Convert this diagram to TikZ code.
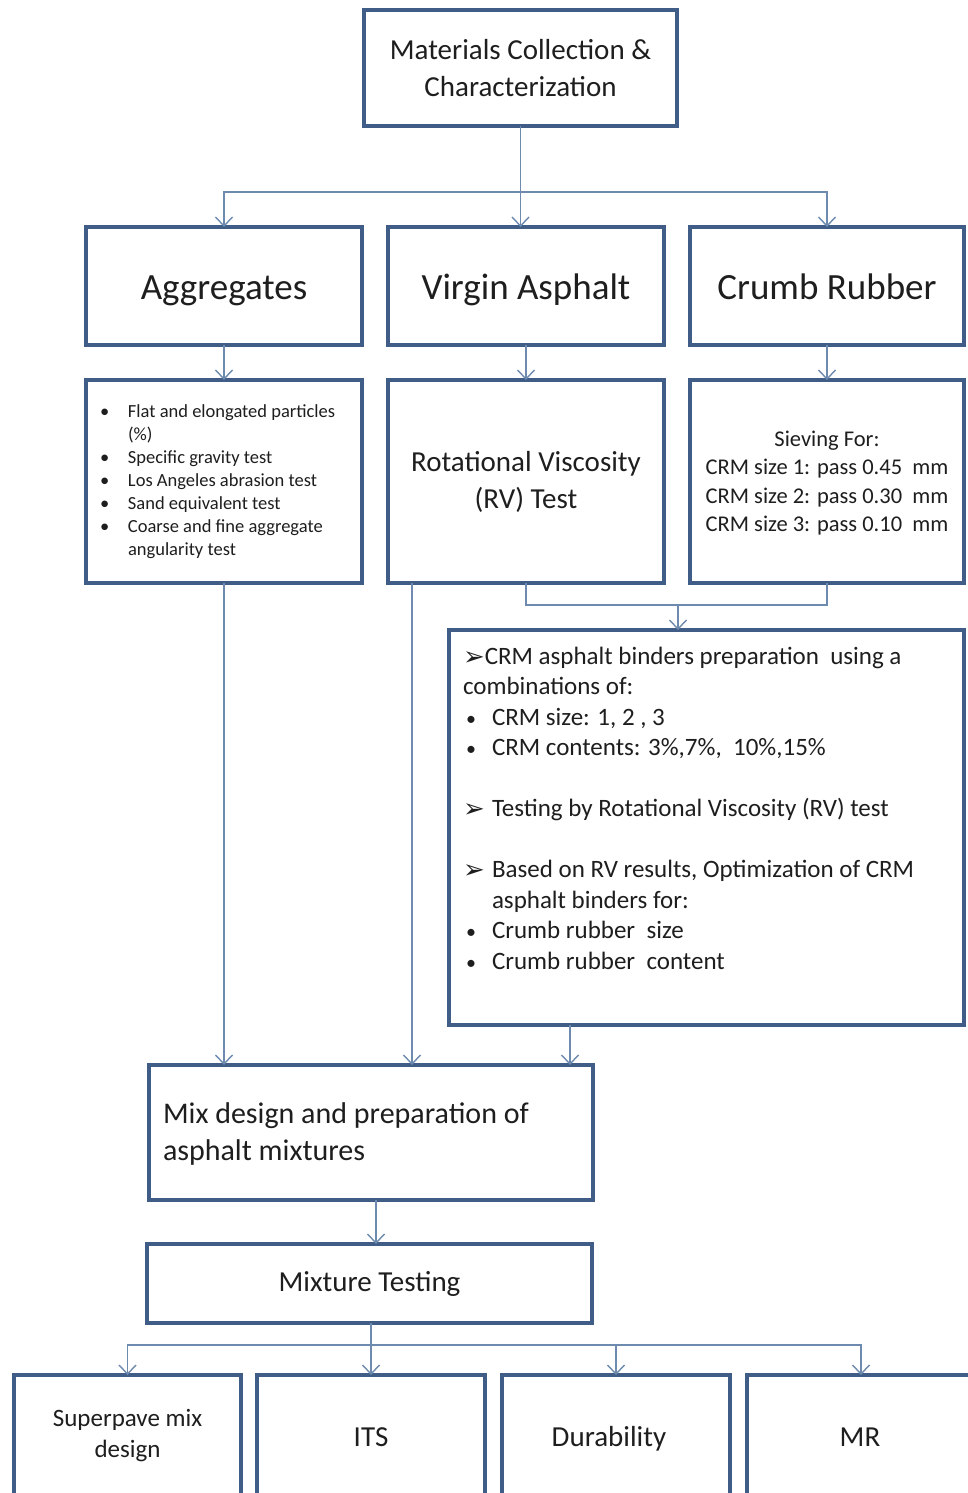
\documentclass[tikz,border=0pt]{standalone}
\usepackage{fontspec}
\setmainfont{Carlito}
\newfontfamily\symfont{DejaVu Sans}
\usetikzlibrary{arrows.meta,calc}
\definecolor{bordercol}{HTML}{3F5D86}
\definecolor{linecol}{HTML}{6E8BAF}
\definecolor{txt}{HTML}{1E1E1E}
\newcommand{\fs}[2]{\fontsize{#1}{#2}\selectfont}
\newcommand{\arrowsym}{{\symfont\fs{26}{30.5}\raisebox{-1pt}{➢}}}
\newcommand{\sbul}{{\fs{20}{30.5}\textbullet}}
\begin{document}
\begin{tikzpicture}[x=1pt,y=-1pt,
  box/.style={draw=bordercol, line width=4pt, fill=white, inner sep=0pt, outer sep=0pt, text=txt, align=center},
  bigbox/.style={box, minimum height=118pt, font=\fs{37}{44}, text height=29pt, text depth=3pt},
  txtnode/.style={inner sep=0pt, outer sep=0pt, text=txt, align=left},
  conn/.style={draw=linecol, line width=1.4pt},
  arr/.style={conn, -{Straight Barb[length=9pt,width=17pt]}},
]
\useasboundingbox[fill=white] (0,0) rectangle (968,1493);
\clip (0,0) rectangle (968,1493);

% top
\node[box, minimum width=313pt, minimum height=116pt, font=\fs{29}{37}] (top) at (520.5,68) {Materials Collection \&\\Characterization};

% row 2
\node[bigbox, minimum width=276pt] (agg) at (224,286) {Aggregates};
\node[bigbox, minimum width=276pt] (va) at (526,286) {Virgin Asphalt};
\node[bigbox, minimum width=274pt] (cr) at (827,286) {Crumb Rubber};

% row 3
\node[box, minimum width=276pt, minimum height=203pt] (aggt) at (224,481.5) {};
\node[txtnode, anchor=west, font=\fs{18.5}{23}] (aggtxt) at (100,482)
  {\makebox[28pt][l]{\textbullet}Flat and elongated particles\\
   \hspace*{28pt}(\%)\\
   \makebox[28pt][l]{\textbullet}Specific gravity test\\
   \makebox[28pt][l]{\textbullet}Los Angeles abrasion test\\
   \makebox[28pt][l]{\textbullet}Sand equivalent test\\
   \makebox[28pt][l]{\textbullet}Coarse and fine aggregate\\
   \hspace*{28pt}angularity test};
\node[box, minimum width=276pt, minimum height=203pt, font=\fs{29}{37}] (rv) at (526,481.5) {Rotational Viscosity\\(RV) Test};
\node[box, minimum width=274pt, minimum height=203pt] (siev) at (827,481.5) {};
\node[txtnode, align=center, font=\fs{22.5}{28.5}] (sievtxt) at (827,483)
  {Sieving For:\\CRM size 1: pass 0.45\ \ mm\\CRM size 2: pass 0.30\ \ mm\\CRM size 3: pass 0.10\ \ mm};

% CRM box
\node[box, minimum width=515pt, minimum height=395pt] (crm) at (706.5,827.5) {};
\node[txtnode, anchor=north west, font=\fs{25}{30.5}] (crmtxt) at (463,647)
  {\arrowsym CRM asphalt binders preparation\ \ using a\\
   combinations of:\\
   \makebox[29pt][l]{\hspace{3pt}\sbul}CRM size: 1, 2 , 3\\
   \makebox[29pt][l]{\hspace{3pt}\sbul}CRM contents: 3\%,7\%, \ 10\%,15\%\\[30.5pt]
   \makebox[29pt][l]{\arrowsym}Testing by Rotational Viscosity (RV) test\\[30.5pt]
   \makebox[29pt][l]{\arrowsym}Based on RV results, Optimization of CRM\\
   \hspace*{29pt}asphalt binders for:\\
   \makebox[29pt][l]{\hspace{3pt}\sbul}Crumb rubber\ \ size\\
   \makebox[29pt][l]{\hspace{3pt}\sbul}Crumb rubber\ \ content};

% mix design
\node[box, minimum width=444pt, minimum height=135pt] (mix) at (371,1132.5) {};
\node[txtnode, anchor=west, font=\fs{30}{37}] (mixtxt) at (163,1134)
  {Mix design and preparation of\\asphalt mixtures};

% mixture testing
\node[box, minimum width=445pt, minimum height=79pt, font=\fs{29}{35}] (mt) at (369.5,1283.5) {Mixture Testing};

% bottom row
\node[box, minimum width=227pt, minimum height=122pt] (sp) at (127.5,1436) {};
\node[box, minimum width=228pt, minimum height=122pt] (its) at (371,1436) {};
\node[box, minimum width=228pt, minimum height=122pt] (dur) at (616,1436) {};
\node[box, minimum width=228pt, minimum height=122pt] (mr) at (861,1436) {};
\node[txtnode, align=center, font=\fs{25}{31}] (sptxt) at (127.5,1436) {Superpave mix\\design};
\node[txtnode, font=\fs{29}{35}] (itstxt) at (371,1437) {ITS};
\node[txtnode, font=\fs{29}{35}] (durtxt) at (609,1439) {Durability};
\node[txtnode, font=\fs{29}{35}] (mrtxt) at (860,1437) {MR};

% connectors
\coordinate (j1) at (520.5,192);
\draw[conn] (top.south) -- (j1);
\draw[arr] (j1) -| (agg.north);
\draw[arr] (j1) -| (cr.north);
\draw[arr] (j1) -- (j1 |- va.north);

\draw[arr] (agg.south) -- (aggt.north);
\draw[arr] (va.south) -- (rv.north);
\draw[arr] (cr.south) -- (siev.north);

\coordinate (j2) at (678,605);
\draw[conn] (rv.south) |- (j2) -| (siev.south);
\draw[arr] (j2) -- (j2 |- crm.north);

\draw[arr] (aggt.south) -- (aggt.south |- mix.north);
\coordinate (vaout) at ($(rv.south)+(-114,0)$);
\draw[arr] (vaout) -- (vaout |- mix.north);
\coordinate (crmout) at ($(crm.south)+(-136.5,0)$);
\draw[arr] (crmout) -- (crmout |- mix.north);

\coordinate (mixout) at ($(mix.south)+(5,0)$);
\draw[arr] (mixout) -- (mixout |- mt.north);

\coordinate (j3) at (371,1345);
\draw[conn] (j3 |- mt.south) -- (j3);
\draw[arr] (j3) -| (sp.north);
\draw[arr] (j3) -- (its.north);
\draw[arr] (j3) -| (dur.north);
\draw[arr] (j3) -| (mr.north);
\end{tikzpicture}
\end{document}
